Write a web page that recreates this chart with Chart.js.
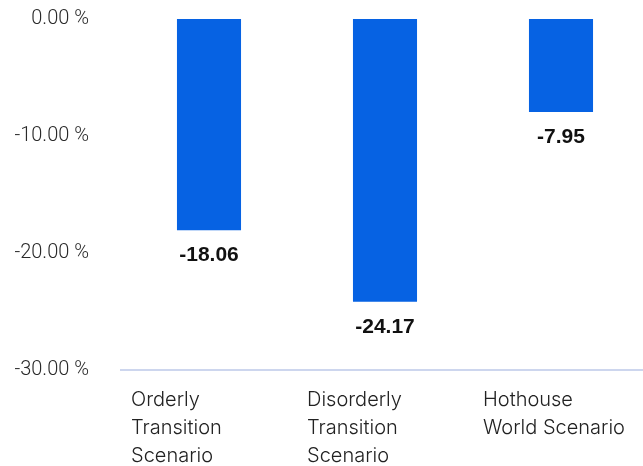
<!DOCTYPE html>
<html>
<head>
<meta charset="utf-8">
<script src="https://cdn.jsdelivr.net/npm/chart.js@4"></script>
<style>
  html, body { margin: 0; padding: 0; background: #fff; overflow: hidden; }
  #wrap { width: 649px; height: 466px; }
</style>
</head>
<body>
<div id="wrap"><canvas id="scenarioChart" width="649" height="466"></canvas></div>
<script>
// ── DATA ───────────────────────────────────────────────
const categories = [
  ['Orderly', 'Transition', 'Scenario'],
  ['Disorderly', 'Transition', 'Scenario'],
  ['Hothouse', 'World Scenario'],
];
const values = [-18.06, -24.17, -7.95];
const yMin = -30;
const yMax = 0;
const yStep = 10;

const barBlue = '#0662e3';

// value labels under each bar end
const valueLabels = {
  id: 'valueLabels',
  afterDatasetsDraw(chart) {
    const { ctx } = chart;
    const meta = chart.getDatasetMeta(0);
    ctx.save();
    ctx.font = 'bold 21px "Liberation Sans", Arial, sans-serif';
    ctx.fillStyle = '#111';
    ctx.textAlign = 'center';
    ctx.textBaseline = 'middle';
    meta.data.forEach((bar, i) => {
      ctx.fillText(values[i].toFixed(2), bar.x, bar.y + 25);
    });
    ctx.restore();
  },
};

new Chart(document.getElementById('scenarioChart'), {
  type: 'bar',
  data: {
    labels: categories,
    datasets: [{
      data: values,
      backgroundColor: barBlue,
      borderWidth: 0,
      categoryPercentage: 1,
      barPercentage: 0.364,
    }],
  },
  options: {
    responsive: false,
    animation: false,
    layout: { padding: { top: 19, right: 0, left: 0, bottom: 0 } },
    plugins: {
      legend: { display: false },
      tooltip: { enabled: false },
    },
    scales: {
      x: {
        grid: { display: false, drawTicks: false },
        border: { display: true, color: '#cdd6ee', width: 2 },
        ticks: {
          align: 'start',
          labelOffset: -78,
          padding: 16,
          color: '#222',
          font: { family: 'Inter, Roboto, sans-serif', size: 20, weight: '300', lineHeight: 1.4 },
          maxRotation: 0,
          autoSkip: false,
        },
        afterFit: scale => {
          scale.height = 96;
          scale.paddingLeft = 0;
          scale.paddingRight = 0;
        },
      },
      y: {
        min: yMin,
        max: yMax,
        grid: { display: false, drawTicks: false },
        border: { display: false },
        ticks: {
          stepSize: yStep,
          padding: 32,
          color: '#2a2a2a',
          font: { family: 'Roboto, sans-serif', size: 20, weight: '300' },
          callback: v => v.toFixed(2) + ' %',
        },
        afterFit: scale => {
          scale.width = 121;
          scale.paddingTop = 0;
          scale.paddingBottom = 0;
        },
      },
    },
  },
  plugins: [valueLabels],
});
</script>
</body>
</html>
